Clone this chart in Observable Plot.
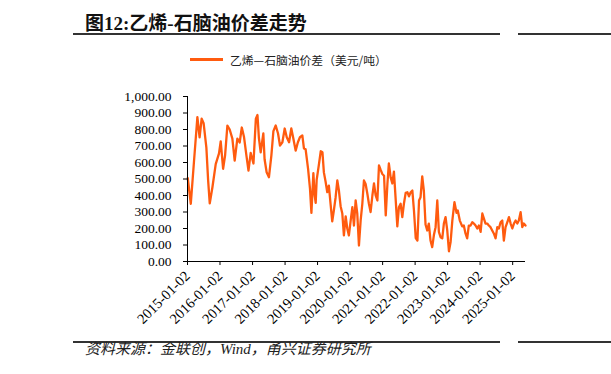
<!DOCTYPE html>
<html>
<head>
<meta charset="utf-8">
<script src="https://cdn.jsdelivr.net/npm/d3@7"></script>
<script src="https://cdn.jsdelivr.net/npm/@observablehq/plot@0.6"></script>
<style>
  html, body { margin: 0; padding: 0; background: #fff; }
  #wrap { position: relative; width: 611px; height: 374px; overflow: hidden; }
  #chart { position: absolute; left: 0; top: 0; }
  .title { position: absolute; left: 85px; top: 8px; font-family: "Liberation Serif", "Noto Sans CJK SC", serif; font-weight: bold; font-size: 19px; color: #111; white-space: nowrap; }
  .rule { position: absolute; height: 1.5px; background: #333; }
  .legend { position: absolute; left: 190px; top: 51px; font-family: "Noto Sans CJK SC", sans-serif; font-size: 11.8px; color: #222; white-space: nowrap; display: flex; align-items: center; }
  .legend .sw { width: 33px; height: 3px; background: #FF5B0F; margin-right: 7px; }
  .caption { position: absolute; left: 85px; top: 337px; font-family: "Liberation Serif", "Noto Sans CJK SC", serif; font-style: italic; font-size: 15px; color: #222; white-space: nowrap; }
</style>
</head>
<body>
<div id="wrap">
  <div id="chart"></div>
  <div class="title">图12:乙烯-石脑油价差走势</div>
  <div class="rule" style="left:73px; width:427px; top:33px;"></div>
  <div class="rule" style="left:518px; width:93px; top:33px;"></div>
  <div class="legend"><span class="sw"></span><span id="legendText"></span></div>
  <div class="rule" style="left:73px; width:427px; top:341px;"></div>
  <div class="rule" style="left:518px; width:93px; top:341px;"></div>
  <div class="caption">资料来源：金联创，Wind，甬兴证券研究所</div>
</div>
<script>
const seriesName = "乙烯—石脑油价差（美元/吨）";
const dates = [
"2015-01-05","2015-02-08","2015-03-15","2015-04-23","2015-05-18","2015-06-10","2015-07-02","2015-08-02","2015-08-22","2015-09-09",
"2015-10-09","2015-11-15","2015-12-22","2016-01-10","2016-02-06","2016-02-28","2016-03-25","2016-04-20","2016-05-20","2016-06-15",
"2016-07-15","2016-08-10","2016-09-03","2016-09-28","2016-10-25","2016-11-17","2016-12-12","2017-01-12","2017-02-08","2017-02-26",
"2017-03-14","2017-04-03","2017-05-03","2017-05-17","2017-06-09","2017-07-05","2017-08-01","2017-08-24","2017-09-19","2017-10-15",
"2017-11-06","2017-12-03","2017-12-29","2018-01-21","2018-02-16","2018-03-13","2018-04-05","2018-05-01","2018-05-26","2018-06-18",
"2018-07-15","2018-08-02","2018-08-21","2018-09-17","2018-10-09","2018-10-25","2018-11-16","2018-12-01","2018-12-12","2018-12-23",
"2019-01-15","2019-02-07","2019-02-26","2019-03-14","2019-04-02","2019-04-21","2019-05-09","2019-05-28","2019-06-16","2019-07-04",
"2019-07-23","2019-08-12","2019-08-30","2019-09-18","2019-10-07","2019-10-25","2019-11-14","2019-12-02","2019-12-20","2020-01-09",
"2020-01-28","2020-02-15","2020-03-05","2020-03-23","2020-04-11","2020-04-30","2020-05-19","2020-06-06","2020-06-25","2020-07-14",
"2020-08-01","2020-08-20","2020-09-09","2020-09-27","2020-10-16","2020-11-04","2020-11-22","2020-12-11","2020-12-30","2021-01-18",
"2021-02-06","2021-02-25","2021-03-13","2021-04-02","2021-04-21","2021-05-09","2021-05-27","2021-06-16","2021-07-04","2021-07-23",
"2021-08-11","2021-08-29","2021-09-18","2021-10-07","2021-10-25","2021-11-13","2021-12-02","2021-12-20","2022-01-09","2022-01-28",
"2022-02-15","2022-03-04","2022-03-23","2022-04-10","2022-04-29","2022-05-18","2022-06-05","2022-06-24","2022-07-13","2022-08-01",
"2022-08-20","2022-09-08","2022-09-26","2022-10-15","2022-11-03","2022-11-21","2022-12-10","2022-12-29","2023-01-17","2023-02-05",
"2023-02-24","2023-03-20","2023-04-12","2023-04-26","2023-05-19","2023-06-15","2023-07-03","2023-07-22","2023-08-10","2023-08-28",
"2023-09-17","2023-10-06","2023-10-24","2023-11-12","2023-12-01","2023-12-19","2024-01-08","2024-01-27","2024-02-14","2024-03-03",
"2024-03-22","2024-04-09","2024-04-28","2024-05-17","2024-06-04","2024-06-24","2024-07-13","2024-07-31","2024-08-19","2024-09-07",
"2024-09-25","2024-10-14","2024-11-03","2024-11-21","2024-12-10","2024-12-29","2025-01-16","2025-02-04","2025-02-23","2025-03-12",
"2025-04-01","2025-04-20","2025-05-07","2025-05-26"
];
const spread = [
505,350,600,875,752,866,838,690,490,352,
450,590,655,728,562,642,824,800,745,612,
745,721,812,754,642,551,658,594,866,888,
750,662,776,620,541,511,642,790,824,776,
703,723,806,753,723,806,745,672,723,753,
764,685,680,564,442,295,535,400,355,495,
580,668,662,540,485,420,460,350,243,309,
385,491,430,335,291,158,274,200,158,248,
330,218,370,291,97,248,350,491,470,412,
350,300,400,473,400,370,582,555,530,520,
279,473,594,510,473,545,390,213,329,350,
269,350,416,420,395,420,430,309,142,127,
370,390,516,430,224,188,230,127,87,160,
208,370,180,147,140,230,269,188,62,120,
248,360,295,309,248,213,218,170,140,218,
218,238,230,218,200,218,180,291,260,230,
230,218,208,188,170,140,208,200,238,248,
127,208,238,269,230,200,230,248,230,248,
299,208,230,218
];
const tickYears = d3.range(2015, 2026);
const yTicks = d3.range(0, 1001, 100);

document.getElementById("legendText").textContent = seriesName;

const parse = d3.utcParse("%Y-%m-%d");
const data = dates.map((d, i) => ({date: parse(d), value: spread[i]}));
const xStart = parse("2015-01-02");
const xEnd = parse("2025-05-26");
const xTicks = tickYears.map(y => new Date(Date.UTC(y, 0, 2)));

const chart = Plot.plot({
  width: 611,
  height: 374,
  marginLeft: 187,
  marginRight: 86,
  marginTop: 96,
  marginBottom: 113,
  style: {fontFamily: "Liberation Serif, serif", fontSize: "13.5px", color: "#000", background: "transparent"},
  x: {type: "utc", domain: [xStart, xEnd]},
  y: {domain: [0, 1000]},
  marks: [
    Plot.line(data, {x: "date", y: "value", stroke: "#FF5B0F", strokeWidth: 2.3, strokeLinejoin: "round"}),
    Plot.ruleY([0], {stroke: "#000", strokeWidth: 1}),
    Plot.ruleX([xStart], {y1: 0, y2: 1000, stroke: "#000", strokeWidth: 1}),
    Plot.axisY({ticks: yTicks, tickFormat: d3.format(",.2f"), tickSize: 4, tickPadding: 12, label: null, stroke: "#000"}),
    Plot.axisX({ticks: xTicks, tickFormat: d3.utcFormat("%Y-%m-%d"), tickRotate: -45, tickSize: 4, tickPadding: 8, fontSize: 14.5, label: null, stroke: "#000"})
  ]
});
document.getElementById("chart").appendChild(chart);
</script>
</body>
</html>
